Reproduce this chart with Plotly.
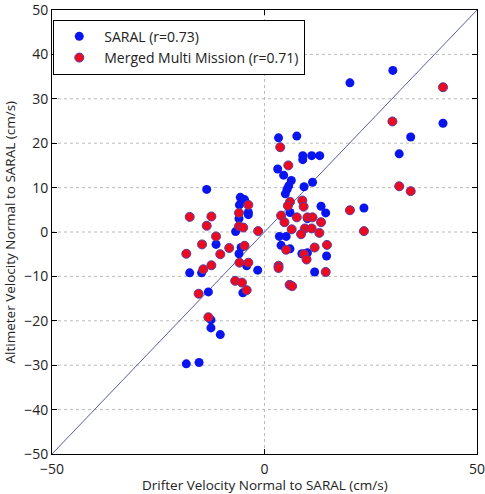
import plotly.graph_objects as go

saral_x = [20.1, 30.2, 42.0, 34.4, 31.7, 23.4, 7.6, 3.3, 9.0, 9.0, 11.1, 13.0, 3.1, 4.5, 6.3, 5.7,
           5.3, 4.9, 9.3, 11.3, 13.3, 14.4, 6.0, 10.1, 3.5, 5.1, 3.9, 6.0, 8.8, 10.1, 14.6, 11.8,
           -13.6, -5.7, -4.7, -5.9, -3.8, -3.8, -6.0, -6.8, -11.4, -6.0, -5.5, -4.2, -1.6, -14.8,
           -17.6, -13.2, -5.1, -12.6, -12.6, -10.4, -18.4, -15.4]
saral_y = [33.6, 36.4, 24.5, 21.4, 17.6, 5.4, 21.6, 21.2, 17.2, 16.3, 17.2, 17.2, 14.2, 12.8, 11.6, 10.4,
           9.6, 8.6, 10.2, 11.2, 5.8, 4.3, 4.4, 3.0, -1.0, -1.0, -3.0, -3.8, -4.9, -4.7, -5.4, -9.0,
           9.6, 7.8, 7.3, 6.1, 4.4, 3.9, 3.0, 0.1, -2.8, -4.9, -3.5, -7.6, -8.6, -9.2,
           -9.2, -13.5, -13.7, -19.8, -21.6, -23.1, -29.7, -29.4]

mmm_x = [42.0, 30.1, 31.7, 34.4, 20.1, 23.4, 3.7, 5.6, 6.0, 5.5, 8.9, 9.2, 3.9, 4.7, 7.6, 10.1, 11.3,
         13.3, 6.4, 9.5, 11.1, 8.6, 12.9, 14.7, 11.8, 5.1, 9.3, 9.9, 3.3, 3.3, 14.4, 5.9, 6.5,
         -3.8, -6.0, -6.0, -5.0, -1.5, -17.6, -12.5, -13.6, -11.4, -14.7, -8.3, -4.7, -18.4, -10.4,
         -12.5, -14.4, -5.9, -3.8, -6.9, -5.3, -4.2, -15.5, -13.2]
mmm_y = [32.6, 24.9, 10.3, 9.2, 4.9, 0.2, 19.1, 15.0, 6.8, 5.9, 7.1, 5.7, 3.7, 2.2, 3.3, 3.3, 3.3,
         2.2, 0.6, 0.8, 0.8, -0.5, -0.2, -2.9, -3.5, -4.0, -5.0, -6.2, -7.6, -8.1, -9.0, -11.9, -12.2,
         6.1, 4.3, 1.3, 1.0, 0.2, 3.4, 3.5, 1.4, -1.0, -2.8, -3.6, -3.1, -4.9, -5.0,
         -7.5, -8.4, -6.9, -6.9, -11.0, -11.4, -13.1, -13.9, -19.2]

diag = [-50, 50]
y_ticks = [-50, -40, -30, -20, -10, 0, 10, 20, 30, 40, 50]
x_ticks = [-50, 0, 50]

font = "Open Sans, Liberation Sans, Arial, sans-serif"

fig = go.Figure()
fig.add_trace(go.Scatter(x=diag, y=diag, mode="lines", line=dict(color="#5a5aa8", width=1),
                         showlegend=False, hoverinfo="skip"))
fig.add_trace(go.Scatter(x=saral_x, y=saral_y, mode="markers", name="SARAL (r=0.73)",
                         marker=dict(color="#0a14ee", size=9, line=dict(width=0))))
fig.add_trace(go.Scatter(x=mmm_x, y=mmm_y, mode="markers", name="Merged Multi Mission (r=0.71)",
                         marker=dict(color="#ee0a1e", size=9, line=dict(color="#5a3aa0", width=1))))

# dotted grid lines
for v in y_ticks[1:-1]:
    fig.add_shape(type="line", x0=-50, x1=50, y0=v, y1=v, xref="x", yref="y",
                  line=dict(color="#bbbbbb", width=1, dash="dot"), layer="below")
fig.add_shape(type="line", x0=0, x1=0, y0=-50, y1=50, xref="x", yref="y",
              line=dict(color="#bbbbbb", width=1, dash="dot"), layer="below")

fig.add_annotation(text="Drifter Velocity Normal to SARAL (cm/s)", xref="paper", yref="paper",
                   x=0.5, y=-0.046, xanchor="center", yanchor="top", showarrow=False,
                   font=dict(size=13.5, color="#222222"))
fig.add_annotation(text="Altimeter Velocity Normal to SARAL (cm/s)", xref="paper", yref="paper",
                   x=-0.1, y=0.5, xanchor="center", yanchor="middle", showarrow=False,
                   textangle=-90, font=dict(size=13.5, color="#222222"))

fig.update_layout(
    width=485, height=494,
    margin=dict(l=52, r=8, t=10, b=40),
    paper_bgcolor="white", plot_bgcolor="white",
    font=dict(family=font, size=13, color="#222222"),
    legend=dict(x=0.003, y=0.978, xanchor="left", yanchor="top",
                bgcolor="white", bordercolor="black", borderwidth=1,
                font=dict(size=14), itemwidth=40, tracegroupgap=0),
    xaxis=dict(range=[-50, 50], tickvals=x_ticks, showgrid=False, zeroline=False,
               showline=True, linecolor="black", linewidth=1, mirror="ticks",
               ticks="inside", ticklen=5, tickcolor="black", automargin=False,
               tickfont=dict(size=14), ticklabelstandoff=2, ticklabeloverflow="allow"),
    yaxis=dict(range=[-50, 50], tickvals=y_ticks, showgrid=False, zeroline=False,
               showline=True, linecolor="black", linewidth=1, mirror="ticks",
               ticks="inside", ticklen=5, tickcolor="black", automargin=False,
               tickfont=dict(size=14), ticklabeloverflow="allow"),
)

fig.write_html("out.html", config={"displayModeBar": False},
               post_script="document.body.style.margin='0';document.body.style.overflow='hidden';")
